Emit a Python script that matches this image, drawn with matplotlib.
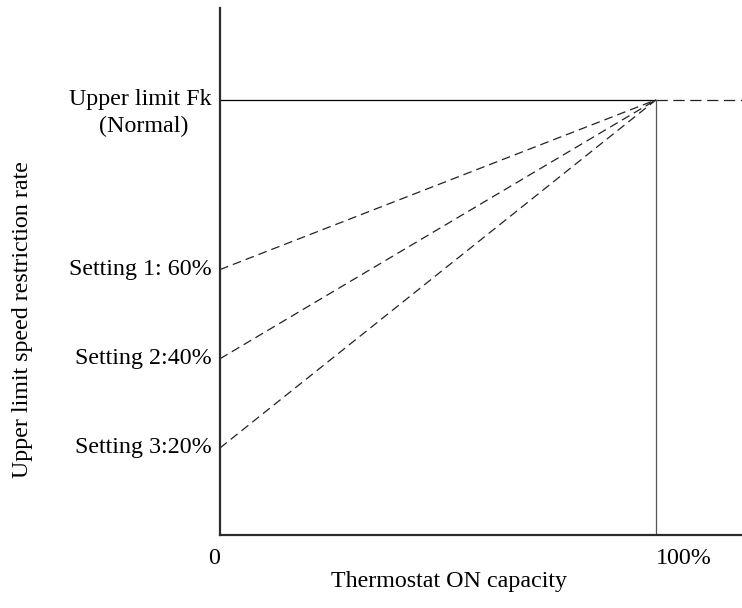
import matplotlib
matplotlib.use("Agg")
import matplotlib.pyplot as plt

# schematic values, normalised to the upper limit Fk (= 1.0)
x_range = [0, 100]          # thermostat ON capacity, %
fk_level = 1.0
setting_levels = [0.61, 0.405, 0.20]
setting_labels = ["Setting 1: 60%", "Setting 2:40%", "Setting 3:20%"]
fk_labels = ["Upper limit Fk", "(Normal)"]
x_ticks = [0, 100]
x_tick_labels = ["0", "100%"]

plt.rcParams["font.family"] = ["Liberation Serif", "DejaVu Serif"]
FS = 17.3

fig = plt.figure(figsize=(7.42, 6.08), dpi=100)
ax = fig.add_axes([220 / 742, 73 / 608, 522 / 742, 527 / 608])
ax.set_xlim(0, 119.7)
ax.set_ylim(0, 1.211)

for side in ("top", "right"):
    ax.spines[side].set_visible(False)
for side in ("left", "bottom"):
    ax.spines[side].set_linewidth(1.6)
    ax.spines[side].set_color("#2b2b2b")

# upper limit (solid) and its continuation past 100% (dashed)
ax.plot(x_range, [fk_level, fk_level], color="black", lw=0.9, solid_capstyle="butt")
ax.plot([x_range[1], 119.7], [fk_level, fk_level], color="#222222", lw=0.9,
        ls=(0, (9, 4.5)))
ax.plot([x_range[1], x_range[1]], [0, fk_level], color="#555555", lw=0.9)

# restriction settings ramp up to Fk at 100% capacity
for lvl in setting_levels:
    ax.plot(x_range, [lvl, fk_level], color="#222222", lw=0.9, ls=(0, (7, 4)))

ax.set_xticks(x_ticks)
ax.set_xticklabels([])
ax.set_yticks([])
ax.tick_params(length=0)

for x, lab in zip(x_ticks, x_tick_labels):
    ax.annotate(lab, xy=(x, 0), xycoords="data", xytext=(0, -17),
                textcoords="offset points", ha="left" if x else "right",
                va="center", fontsize=FS)

ax.annotate(fk_labels[0], xy=(0, fk_level), xytext=(-6, 0), textcoords="offset points",
            ha="right", va="center", fontsize=FS)
ax.annotate(fk_labels[1], xy=(0, fk_level), xytext=(-55, -19.5), textcoords="offset points",
            ha="center", va="center", fontsize=FS)
for lvl, lab in zip(setting_levels, setting_labels):
    ax.annotate(lab, xy=(0, lvl), xytext=(-6, 0), textcoords="offset points",
                ha="right", va="center", fontsize=FS)

fig.text(23 / 742, 1 - 320 / 608, "Upper limit speed restriction rate", rotation=90,
         ha="center", va="center", fontsize=FS)
fig.text(449 / 742, 1 - 582 / 608, "Thermostat ON capacity", ha="center", va="center",
         fontsize=FS)

fig.savefig("out.png", dpi=100)
